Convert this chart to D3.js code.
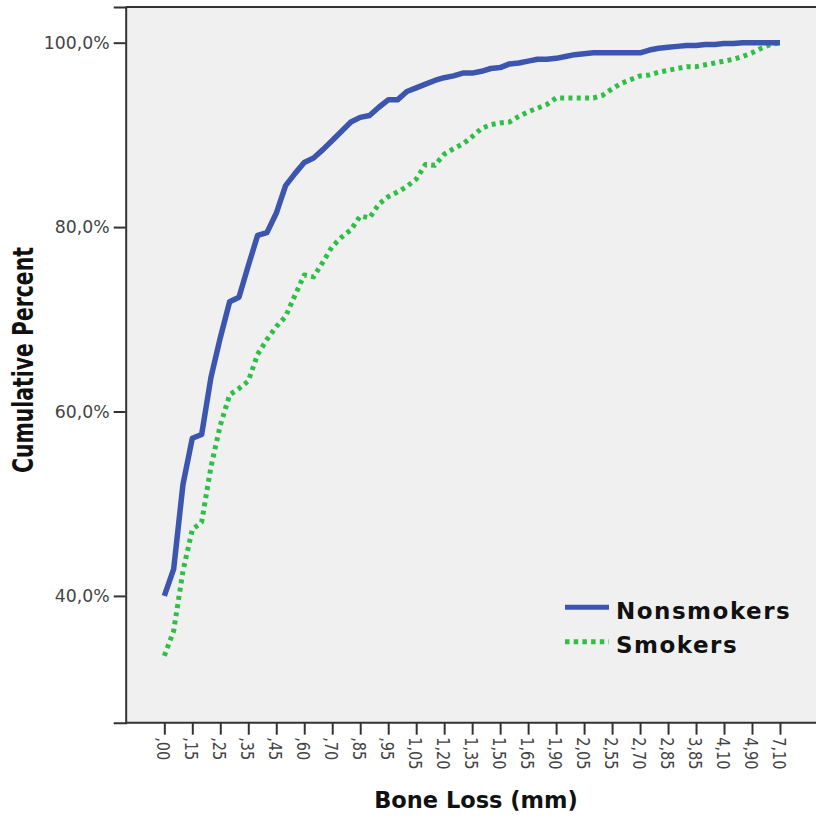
<!DOCTYPE html>
<html>
<head>
<meta charset="utf-8">
<script src="https://cdn.jsdelivr.net/npm/d3@7"></script>
<style>
  html, body { margin: 0; padding: 0; background: #ffffff; }
  svg { display: block; }
  text { font-family: "DejaVu Sans", Verdana, sans-serif; }
</style>
</head>
<body>
<svg id="chart" width="816" height="821"></svg>
<script>
// ---- data ----
const categories = [",00",",05",",10",",15",",18",",20",",25",",28",",30",",35",",38",",40",",45",",50",",55",",60",",63",",65",",70",",75",",80",",85",",88",",90",",95",
  "1,00","1,03","1,05","1,10","1,15","1,20","1,25","1,30","1,35","1,40","1,45","1,50","1,55","1,60","1,65","1,70","1,80","1,90","1,95","2,00","2,05",
  "2,20","2,40","2,55","2,60","2,65","2,70","2,75","2,80","2,85","3,00","3,50","3,85","3,90","4,00","4,10","4,50","4,80","4,90","5,50","6,00","7,10"];
const shownTickLabels = [",00",",15",",25",",35",",45",",60",",70",",85",",95","1,05","1,20","1,35","1,50","1,65","1,90","2,05","2,55","2,70","2,85","3,85","4,10","4,90","7,10"];
const nonsmokers = [40.0,42.9,52.1,57.1,57.5,63.7,68.0,71.9,72.4,75.8,79.1,79.4,81.5,84.5,85.8,87.0,87.5,88.4,89.4,90.4,91.4,91.9,92.1,93.0,93.8,93.8,94.7,95.1,95.5,95.9,96.2,96.4,96.7,96.7,96.9,97.2,97.3,97.7,97.8,98.0,98.2,98.2,98.3,98.5,98.7,98.8,98.9,98.9,98.9,98.9,98.9,98.9,99.2,99.4,99.5,99.6,99.7,99.7,99.8,99.8,99.9,99.9,100,100,100,100,100];
const smokers = [33.5,36.2,42.7,47.2,48.0,54.0,58.5,61.8,62.5,63.3,66.2,67.8,69.2,70.3,72.6,74.8,74.6,76.2,77.9,78.9,79.7,81.2,81.0,82.5,83.3,83.8,84.4,85.2,86.8,86.7,87.9,88.5,89.0,89.8,90.7,91.1,91.3,91.4,92.0,92.5,92.9,93.3,94.0,94.0,94.0,94.0,94.0,94.3,95.0,95.6,96.0,96.4,96.5,96.8,97.0,97.2,97.4,97.4,97.6,97.8,98.0,98.2,98.5,98.9,99.4,99.8,100];
const yTicks = [40, 60, 80, 100];
const seriesNames = ["Nonsmokers", "Smokers"];

// ---- layout ----
const svg = d3.select("#chart");
const pLeft = 125.7, pRight = 818.6, pTop = 7, pBottom = 722.7;
const blue = "#3c56b0", green = "#2fbf45";

const x = d3.scalePoint().domain(categories).range([pLeft, pRight]).padding(4.14);
const y = d3.scaleLinear().domain([26.25, 103.87]).range([pBottom, pTop]);

// plot background + frame
svg.append("rect").attr("x", pLeft).attr("y", pTop).attr("width", 900).attr("height", pBottom - pTop)
  .attr("fill", "#f0f0f0");
svg.append("line").attr("x1", pLeft).attr("x2", 900).attr("y1", pTop).attr("y2", pTop)
  .attr("stroke", "#333").attr("stroke-width", 2);

// y axis
const fmt = v => d3.format(".1f")(v).replace(".", ",") + "%";
const yAxis = svg.append("g").attr("transform", `translate(${pLeft},0)`)
  .call(d3.axisLeft(y).tickValues(yTicks).tickFormat(fmt).tickSize(12).tickPadding(4));
yAxis.select(".domain").attr("stroke", "#333").attr("stroke-width", 2);
yAxis.selectAll(".tick line").attr("stroke", "#333").attr("stroke-width", 2);
yAxis.selectAll(".tick text").attr("fill", "#444").style("font-size", "17.3px")
  .style("font-family", "DejaVu Sans, sans-serif");

// x axis
const xAxis = svg.append("g").attr("transform", `translate(0,${pBottom})`)
  .call(d3.axisBottom(x).tickValues(shownTickLabels).tickSize(12).tickSizeOuter(0));
xAxis.select(".domain").attr("stroke", "#333").attr("stroke-width", 2)
  .attr("d", `M${pLeft},0H900`);
xAxis.selectAll(".tick line").attr("stroke", "#333").attr("stroke-width", 2);
xAxis.selectAll(".tick text")
  .attr("fill", "#444").style("font-size", "14.5px")
  .style("font-family", "DejaVu Sans, sans-serif")
  .attr("text-anchor", "start")
  .attr("y", 0).attr("x", 0).attr("dy", null)
  .attr("transform", "translate(-2,14.5) rotate(90) scale(1,1.2) translate(0,4.5)");

// lines
const line = d3.line().x((d, i) => x(categories[i])).y(d => y(d));
svg.append("path").datum(smokers).attr("d", line)
  .attr("fill", "none").attr("stroke", green).attr("stroke-width", 5)
  .attr("stroke-dasharray", "4,4.3").attr("stroke-linejoin", "round");
svg.append("path").datum(nonsmokers).attr("d", line)
  .attr("fill", "none").attr("stroke", blue).attr("stroke-width", 5.5)
  .attr("stroke-linejoin", "round");

// axis titles
svg.append("text").attr("x", 476).attr("y", 808).attr("text-anchor", "middle")
  .style("font-size", "22.5px").style("font-weight", "bold").attr("fill", "#111")
  .text("Bone Loss (mm)");
svg.append("text").attr("transform", "translate(33.3,360) rotate(-90) scale(1,1.4)")
  .attr("text-anchor", "middle")
  .style("font-size", "20.4px").style("font-weight", "bold").attr("fill", "#111")
  .text("Cumulative Percent");

// legend
const legend = svg.append("g");
const legendRows = [
  {name: seriesNames[0], color: blue, dash: null, ly: 607.3, ty: 619.3},
  {name: seriesNames[1], color: green, dash: "4.5,4.2", ly: 641.7, ty: 653.3}
];
legendRows.forEach(r => {
  legend.append("line").attr("x1", 565).attr("x2", 609).attr("y1", r.ly).attr("y2", r.ly)
    .attr("stroke", r.color).attr("stroke-width", 5)
    .attr("stroke-dasharray", r.dash);
  legend.append("text").attr("x", 616).attr("y", r.ty)
    .style("font-size", "23px").style("font-weight", "bold").style("letter-spacing", "1.5px")
    .attr("fill", "#111").text(r.name);
});
</script>
</body>
</html>
